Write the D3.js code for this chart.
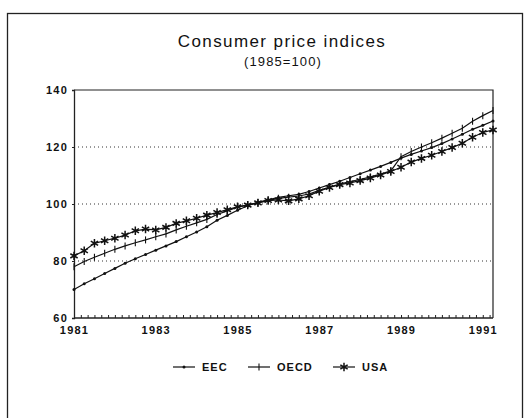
<!DOCTYPE html>
<html>
<head>
<meta charset="utf-8">
<script src="https://cdn.jsdelivr.net/npm/d3@7"></script>
<style>
	body { margin: 0; background: #fff; }
	#chart { width: 528px; height: 418px; }
	text { font-family: "Liberation Sans", Arial, sans-serif; fill: #111; }
	.tick-label { font-size: 11px; font-weight: bold; letter-spacing: 1.2px; }
	.legend-label { font-size: 11px; font-weight: bold; letter-spacing: 1px; }
</style>
</head>
<body>
<div id="chart"></div>
<script>
// quarterly observations, 1981 Q1 .. 1991 Q2
const quarters = [
	1981, 1981.25, 1981.5, 1981.75, 1982, 1982.25, 1982.5, 1982.75,
	1983, 1983.25, 1983.5, 1983.75, 1984, 1984.25, 1984.5, 1984.75,
	1985, 1985.25, 1985.5, 1985.75, 1986, 1986.25, 1986.5, 1986.75,
	1987, 1987.25, 1987.5, 1987.75, 1988, 1988.25, 1988.5, 1988.75,
	1989, 1989.25, 1989.5, 1989.75, 1990, 1990.25, 1990.5, 1990.75,
	1991, 1991.25
];
const eec = [
	70.0, 72.0, 73.8, 75.6, 77.4, 79.2, 80.8, 82.3,
	83.8, 85.3, 86.8, 88.5, 90.2, 92.0, 94.3, 96.0,
	97.8, 99.4, 100.6, 101.5, 102.3, 102.9, 103.4, 104.4,
	105.6, 106.8, 108.0, 109.3, 110.6, 111.9, 113.2, 114.6,
	116.1, 117.4, 118.6, 119.8, 121.2, 122.8, 124.5, 126.2,
	127.6, 129.1
];
const oecd = [
	78.0, 79.8, 81.3, 82.7, 84.1, 85.3, 86.4, 87.4,
	88.5, 89.5, 90.9, 92.2, 93.4, 94.6, 96.3, 97.6,
	98.9, 99.7, 100.5, 101.3, 102.0, 102.4, 102.8, 103.5,
	104.8, 105.9, 107.0, 107.9, 108.6, 109.5, 110.5, 111.6,
	116.6, 118.4, 120.0, 121.5, 123.1, 124.8, 126.6, 129.0,
	131.0, 132.8
];
const usa = [
	81.8, 83.6, 86.2, 87.1, 88.0, 89.1, 90.6, 91.2,
	90.9, 91.8, 93.2, 94.1, 95.0, 96.1, 97.0, 98.0,
	99.0, 99.6, 100.4, 101.2, 101.4, 101.1, 101.8, 102.9,
	104.5, 105.8, 106.8, 107.4, 108.2, 109.1, 110.2, 111.4,
	112.9, 114.7, 116.0, 117.1, 118.4, 119.8, 121.3, 123.4,
	125.1, 126.0
];
const seriesNames = ['EEC', 'OECD', 'USA'];
const yearLabels = [1981, 1983, 1985, 1987, 1989, 1991];
const yTicks = [60, 80, 100, 120, 140];
const gridValues = [80, 100, 120];

const title = 'Consumer price indices';
const subtitle = '(1985=100)';

class CpiPlot{
	constructor(id){
		this.id = id;
		this.div = d3.select('#' + id);
		this.series = [
			{name: seriesNames[0], values: eec, marker: 'dot'},
			{name: seriesNames[1], values: oecd, marker: 'plus'},
			{name: seriesNames[2], values: usa, marker: 'star'}
		];
		this.instantiateSVG();
		this.instantiateAxes();
		this.render();
		this.legend();
	}

	instantiateSVG(){
		this.width = 528;
		this.height = 418;
		this.svg = this.div.append('svg')
			.attr('width', this.width)
			.attr('height', this.height);

		// outer frame, bottom edge runs off the page
		this.svg.append('rect')
			.attr('x', 7.5).attr('y', 13.5)
			.attr('width', 515).attr('height', 440)
			.attr('fill', 'none')
			.attr('stroke', '#222')
			.attr('stroke-width', 1.3);

		this.svg.append('text')
			.attr('x', 282).attr('y', 47)
			.attr('text-anchor', 'middle')
			.style('font-size', '17px')
			.style('letter-spacing', '1.4px')
			.text(title);
		this.svg.append('text')
			.attr('x', 283).attr('y', 66)
			.attr('text-anchor', 'middle')
			.style('font-size', '13px')
			.style('letter-spacing', '1.1px')
			.text(subtitle);

		this.plot = {left: 74, right: 493, top: 90, bottom: 318};
	}

	instantiateAxes(){
		let p = this.plot;
		this.x = d3.scaleLinear().domain([1981, 1991.25]).range([p.left, p.right]);
		this.y = d3.scaleLinear().domain([60, 140]).range([p.bottom, p.top]);

		// dotted gridlines
		this.svg.append('g')
			.selectAll('line')
			.data(gridValues)
			.enter().append('line')
				.attr('x1', p.left).attr('x2', p.right)
				.attr('y1', d => this.y(d)).attr('y2', d => this.y(d))
				.attr('stroke', '#333')
				.attr('stroke-width', 1)
				.attr('stroke-dasharray', '1,3');

		// top and right closing lines
		this.svg.append('path')
			.attr('d', `M${p.left},${p.top}H${p.right}V${p.bottom}`)
			.attr('fill', 'none')
			.attr('stroke', '#222')
			.attr('stroke-width', 1.2);

		// bi-monthly minor ticks along the bottom
		let minor = d3.range(1981, 1991.2, 1 / 6);
		let xMinor = this.svg.append('g')
			.attr('transform', 'translate(0,' + p.bottom + ')')
			.call(d3.axisBottom(this.x).tickValues(minor).tickSize(-3).tickFormat(''));
		xMinor.select('.domain').attr('d', `M${p.left},0H${p.right}`)
			.attr('stroke', '#222').attr('stroke-width', 1.3);
		xMinor.selectAll('.tick line').attr('stroke', '#222');

		let xLab = this.svg.append('g')
			.attr('transform', 'translate(0,' + p.bottom + ')')
			.call(d3.axisBottom(this.x).tickValues(yearLabels).tickSize(0).tickPadding(8).tickFormat(d3.format('d')));
		xLab.select('.domain').remove();
		xLab.selectAll('text').attr('class', 'tick-label').attr('font-family', null).attr('font-size', null);

		let yAx = this.svg.append('g')
			.attr('transform', 'translate(' + p.left + ',0)')
			.call(d3.axisLeft(this.y).tickValues(yTicks).tickSize(2).tickPadding(4));
		yAx.select('.domain').attr('stroke', '#222').attr('stroke-width', 1.3);
		yAx.selectAll('.tick line').attr('stroke', '#222');
		yAx.selectAll('text').attr('class', 'tick-label').attr('font-family', null).attr('font-size', null)
			.attr('dy', '0.28em');
	}

	drawMarker(g, type, cx, cy){
		if (type === 'dot'){
			g.append('circle').attr('cx', cx).attr('cy', cy).attr('r', 1.5).attr('fill', '#111');
		} else if (type === 'plus'){
			g.append('line')
				.attr('x1', cx).attr('x2', cx).attr('y1', cy - 3.5).attr('y2', cy + 3.5)
				.attr('stroke', '#111').attr('stroke-width', 1.1);
		} else {
			g.append('path')
				.attr('transform', 'translate(' + cx + ',' + cy + ')')
				.attr('d', d3.symbol(d3.symbolAsterisk, 50)())
				.attr('fill', 'none')
				.attr('stroke', '#111').attr('stroke-width', 1.5);
		}
	}

	render(){
		let line = d3.line()
			.x((d, i) => this.x(quarters[i]))
			.y(d => this.y(d));

		this.series.forEach(s => {
			let g = this.svg.append('g');
			g.append('path')
				.datum(s.values)
				.attr('d', line)
				.attr('fill', 'none')
				.attr('stroke', '#111')
				.attr('stroke-width', 1.2);
			s.values.forEach((v, i) => this.drawMarker(g, s.marker, this.x(quarters[i]), this.y(v)));
		});
	}

	legend(){
		let pos = [173, 248, 333];
		let ly = 367;
		this.series.forEach((s, i) => {
			let g = this.svg.append('g');
			g.append('line')
				.attr('x1', pos[i]).attr('x2', pos[i] + 22)
				.attr('y1', ly).attr('y2', ly)
				.attr('stroke', '#111').attr('stroke-width', 1.2);
			this.drawMarker(g, s.marker, pos[i] + 11, ly);
			g.append('text')
				.attr('class', 'legend-label')
				.attr('x', pos[i] + 29).attr('y', ly + 4)
				.text(s.name);
		});
	}
}

new CpiPlot('chart');
</script>
</body>
</html>
